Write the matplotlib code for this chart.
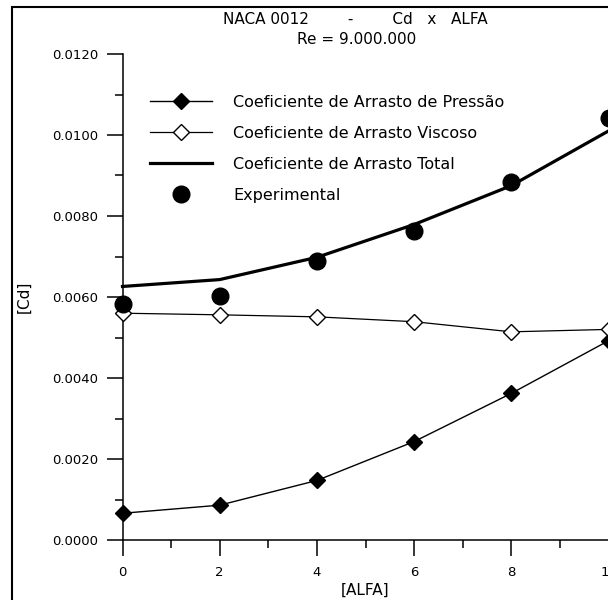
import matplotlib
matplotlib.use('Agg')
import matplotlib.pyplot as plt
from matplotlib.ticker import MultipleLocator, FormatStrFormatter
from matplotlib.patches import Rectangle

# NACA 0012 drag coefficient vs angle of attack, Re = 9.000.000
alfa = [0, 2, 4, 6, 8, 10]
cd_pressao = [0.00066, 0.00086, 0.00147, 0.00243, 0.00362, 0.00492]
cd_viscoso = [0.00560, 0.00556, 0.00551, 0.00539, 0.00514, 0.00520]
cd_total = [0.00626, 0.00643, 0.00698, 0.00779, 0.00875, 0.01010]
cd_exp = [0.00582, 0.00602, 0.00690, 0.00763, 0.00884, 0.01041]

labels = ['Coeficiente de Arrasto de Pressão',
          'Coeficiente de Arrasto Viscoso',
          'Coeficiente de Arrasto Total',
          'Experimental']

W, H = 608, 600
fig = plt.figure(figsize=(W / 100, H / 100), dpi=100)
ax = fig.add_axes([122.5 / W, 60 / H, 486 / W, 486 / H])

# outer frame (right and bottom edges fall outside the picture)
fig.patches.append(Rectangle((11.7 / W, -0.1), 1.2, 1 - 7 / H + 0.1,
                             transform=fig.transFigure, fill=False,
                             lw=1.5, ec='black'))

l1, = ax.plot(alfa, cd_pressao, color='black', lw=1.0, marker='D', ms=8,
              mfc='black', mec='black', clip_on=False, zorder=4)
l2, = ax.plot(alfa, cd_viscoso, color='black', lw=0.9, marker='D', ms=8,
              mfc='white', mec='black', mew=1.0, clip_on=False, zorder=4)
l3, = ax.plot(alfa, cd_total, color='black', lw=2.3, clip_on=False, zorder=3)
l4, = ax.plot(alfa, cd_exp, ls='none', marker='o', ms=12, color='black',
              clip_on=False, zorder=5)

ax.set_xlim(0, 10)
ax.set_ylim(0, 0.012)
ax.spines['top'].set_visible(False)
ax.spines['right'].set_visible(False)
ax.spines['left'].set_linewidth(1.1)
ax.spines['bottom'].set_linewidth(1.1)

ax.xaxis.set_major_locator(MultipleLocator(2))
ax.xaxis.set_minor_locator(MultipleLocator(1))
ax.yaxis.set_major_locator(MultipleLocator(0.002))
ax.yaxis.set_minor_locator(MultipleLocator(0.001))
ax.yaxis.set_major_formatter(FormatStrFormatter('%.4f'))

ax.tick_params(which='major', direction='out', length=11.5, width=1.1,
               labelsize=9.5)
ax.tick_params(which='minor', direction='out', length=6, width=1.1)
ax.tick_params(axis='y', which='major', pad=6)
ax.tick_params(axis='x', which='major', pad=7)

ax.set_xlabel('[ALFA]', fontsize=11)
ax.set_ylabel('[Cd]', fontsize=11)
ax.xaxis.set_label_coords(0.5, -0.103)
ax.yaxis.set_label_coords(-0.203, 0.5)
ax.xaxis.label.set_va('center')
ax.yaxis.label.set_va('center')

fig.text(222.7 / W, 1 - 20 / H, 'NACA 0012        -        Cd   x   ALFA',
         fontsize=11, ha='left', va='center')
fig.text(357 / W, 1 - 40 / H, 'Re = 9.000.000', fontsize=11,
         ha='center', va='center')

leg = ax.legend([l1, l2, l3, l4], labels, loc='upper left',
                bbox_to_anchor=(150 / W, 1 - 95 / H),
                bbox_transform=fig.transFigure, frameon=False, fontsize=11.5,
                handlelength=3.9, handletextpad=1.3, labelspacing=1.0,
                borderpad=0, borderaxespad=0, numpoints=1)

fig.savefig('out.png', dpi=100)
